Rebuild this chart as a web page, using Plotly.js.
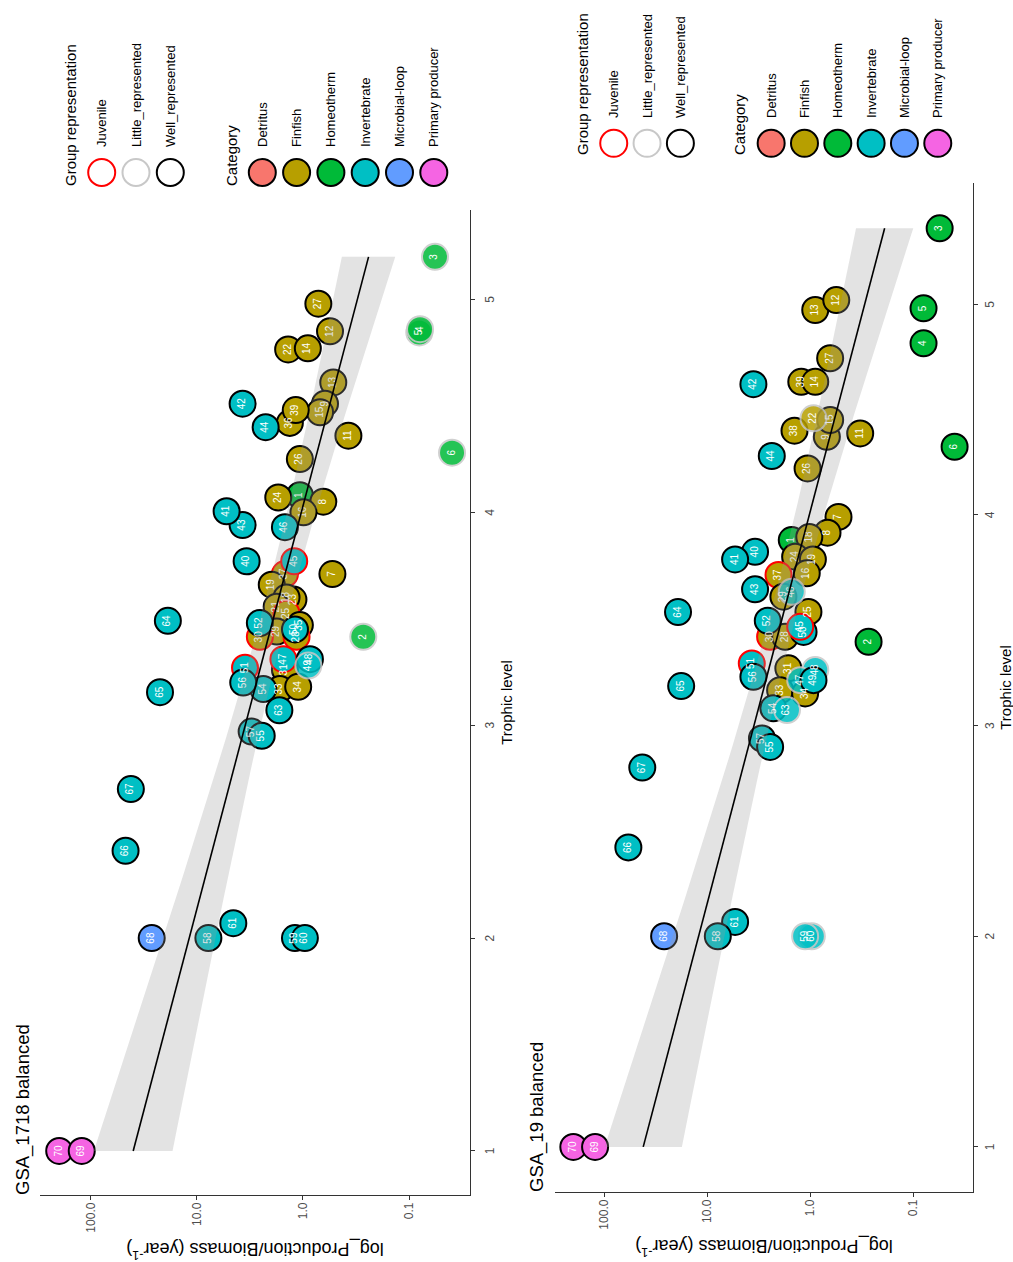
<!DOCTYPE html>
<html>
<head>
<meta charset="utf-8">
<script src="https://cdn.plot.ly/plotly-3.0.1.min.js"></script>
<style>
  html, body { margin:0; padding:0; background:#ffffff; overflow:hidden; }
  #wrap { position:relative; width:1013px; height:1262px; overflow:hidden; background:#fff; }
  .panel { position:absolute; top:0; width:1262px; height:520px; transform-origin:0 0; transform:translate(0px,1262px) rotate(-90deg); }
</style>
</head>
<body>
<div id="wrap">
  <div id="panelA" class="panel" style="left:0px;"></div>
  <div id="panelB" class="panel" style="left:506px;"></div>
</div>
<script>
// ---------------- DATA ----------------
const categories = ['Detritus','Finfish','Homeotherm','Invertebrate','Microbial-loop','Primary producer'];
const categoryCodes = ['D','F','H','I','M','P'];
const categoryColors = ['#F8766D','#B79F00','#00BA38','#00BFC4','#619CFF','#F564E3'];
const representations = ['Juvenile','Little_represented','Well_represented'];
const representationCodes = ['J','L','W'];
const representationColors = ['#FF0000','#C8C8C8','#000000'];

const pbTickVals = [0.1, 1, 10, 100];
const pbTickText = ['0.1', '1.0', '10.0', '100.0'];
const tlTickVals = [1, 2, 3, 4, 5];

// Panel A : GSA_1718 balanced
const titleA = 'GSA_1718 balanced';
const groupsA = ['1','7','8','24','16','26','11','13','9','15','36','39','22','14','12','27','37','19','23','18','21','25','35','29','30','28','31','33','34',
  '70','69','68','58','61','59','60','66','67','65','64','57','55','63','54','51','56','52','50','40','43','41','44','42','46','45','47','48','49',
  '2','3','5','4','6'];
const tlA = [4.08,3.71,4.05,4.07,4.00,4.25,4.36,4.61,4.51,4.47,4.42,4.48,4.765,4.77,4.85,4.98,3.71,3.66,3.59,3.60,3.556,3.525,3.47,3.44,3.415,3.415,3.26,3.17,3.18,
  1.00,1.00,2.00,2.00,2.07,2.00,2.00,2.41,2.70,3.155,3.49,2.97,2.95,3.07,3.17,3.27,3.20,3.48,3.45,3.77,3.94,4.005,4.40,4.51,3.93,3.77,3.31,3.31,3.28,
  3.415,5.20,4.845,4.86,4.28];
const pbA = [1.07,0.528,0.643,1.71,0.99,1.07,0.373,0.518,0.62,0.69,1.33,1.17,1.38,0.90,0.556,0.716,1.48,1.97,1.23,1.43,1.77,1.43,1.07,1.77,2.55,1.15,1.48,1.65,1.11,
  199,122,26.7,7.8,4.54,1.19,0.96,47.1,42.0,22.3,18.8,3.05,2.45,1.67,2.37,3.52,3.66,2.55,1.19,3.40,3.71,5.25,2.25,3.71,1.48,1.21,1.53,0.86,0.89,
  0.27,0.0569,0.080,0.0787,0.0393];
const catA = ['H','F','F','F','F','F','F','F','F','F','F','F','F','F','F','F','F','F','F','F','F','F','F','F','F','F','F','F','F',
  'P','P','M','I','I','I','I','I','I','I','I','I','I','I','I','I','I','I','I','I','I','I','I','I','I','I','I','I','I',
  'H','H','H','H','H'];
const repA = ['W','W','W','W','W','W','W','W','W','W','W','W','W','W','W','W','J','W','W','W','W','J','W','W','J','J','W','W','W',
  'W','W','W','W','W','W','W','W','W','W','W','W','W','W','W','J','W','W','W','W','W','W','W','W','W','J','J','W','L',
  'L','L','L','L','L'];

// Panel B : GSA_19 balanced
const titleB = 'GSA_19 balanced';
const groupsB = ['1','7','8','18','24','19','16','37','29','25','30','28','31','33','34','26','38','11','9','15','22','39','14','27','13','12',
  '42','44','40','41','43','46','52','50','45','51','56','48','47','49','54','63','57','55','64','65','67','66','61','58','60','59','68','70','69',
  '2','3','4','5','6'];
const tlB = [3.881,3.991,3.916,3.896,3.802,3.789,3.723,3.715,3.612,3.54,3.422,3.422,3.272,3.168,3.153,4.221,4.40,4.387,4.371,4.451,4.459,4.632,4.632,4.744,4.973,5.02,
  4.621,4.28,3.825,3.789,3.647,3.635,3.498,3.445,3.469,3.295,3.232,3.264,3.216,3.216,3.082,3.074,2.939,2.899,3.539,3.188,2.801,2.422,2.068,2.0,2.0,2.0,2.0,1.0,1.0,
  3.398,5.361,4.815,4.981,4.324];
const pbB = [1.51,0.531,0.679,1.02,1.40,0.942,1.08,2.03,1.82,1.04,2.45,1.75,1.63,1.96,1.12,1.06,1.42,0.327,0.689,0.64,0.929,1.22,0.893,0.64,0.893,0.558,
  3.56,2.36,3.43,5.36,3.43,1.51,2.58,1.16,1.25,3.69,3.56,0.893,1.25,0.929,2.28,1.68,2.94,2.45,19.2,17.9,42.7,58.3,5.36,7.89,0.964,1.12,26.2,199.5,122.7,
  0.271,0.0553,0.0793,0.0793,0.0396];
const catB = ['H','F','F','F','F','F','F','F','F','F','F','F','F','F','F','F','F','F','F','F','F','F','F','F','F','F',
  'I','I','I','I','I','I','I','I','I','I','I','I','I','I','I','I','I','I','I','I','I','I','I','I','I','I','M','P','P',
  'H','H','H','H','H'];
const repB = ['W','W','W','W','W','W','W','J','W','W','J','W','W','W','W','W','W','W','W','W','L','W','W','W','W','W',
  'W','W','W','W','W','L','W','W','J','J','W','L','L','W','W','L','W','W','W','W','W','W','W','W','L','L','W','W','W',
  'W','W','W','W','W'];

// ---------------- HELPERS ----------------
const FONT = 'Liberation Sans, Arial, Helvetica, sans-serif';
const W = 1262, H = 520;

function lmFit(x, y) {
  const n = x.length;
  const ly = y.map(v => Math.log10(v));
  const mx = x.reduce((a,b)=>a+b,0)/n, my = ly.reduce((a,b)=>a+b,0)/n;
  let sxx = 0, sxy = 0;
  for (let i=0;i<n;i++){ sxx += (x[i]-mx)*(x[i]-mx); sxy += (x[i]-mx)*(ly[i]-my); }
  const b = sxy/sxx, a = my - b*mx;
  let ss = 0;
  for (let i=0;i<n;i++){ const r = ly[i]-(a+b*x[i]); ss += r*r; }
  const df = n-2, s = Math.sqrt(ss/df);
  const z = 1.959964, t = z + (z*z*z + z)/(4*df);
  const xmin = Math.min(...x), xmax = Math.max(...x);
  const xs = [], fit = [], lo = [], hi = [];
  const N = 80;
  for (let k=0;k<=N;k++){
    const xv = xmin + (xmax-xmin)*k/N;
    const yv = a + b*xv;
    const se = s*Math.sqrt(1/n + (xv-mx)*(xv-mx)/sxx);
    xs.push(xv); fit.push(Math.pow(10,yv)); lo.push(Math.pow(10,yv-t*se)); hi.push(Math.pow(10,yv+t*se));
  }
  return {xs, fit, lo, hi};
}

function drawPanel(divId, cfg) {
  const m = cfg.margin;
  const pw = W - m.l - m.r, ph = H - m.t - m.b;
  const px = u => (u - m.l)/pw;
  const py = v => (H - m.b - v)/ph;
  const catColor = c => categoryColors[categoryCodes.indexOf(c)];
  const repColor = r => representationColors[representationCodes.indexOf(r)];

  const fit = lmFit(cfg.tl, cfg.pb);

  const points = {
    type:'scatter', mode:'markers+text', x: cfg.tl, y: cfg.pb, text: cfg.groups,
    textposition:'middle center', textfont:{family:FONT, size:10, color:'#ffffff'},
    marker:{size:26, color: cfg.cat.map(catColor), opacity: cfg.rep.map(r => r==='L' ? 0.85 : 1),
      line:{width:2, color: cfg.rep.map(repColor)}},
    cliponaxis:false, hoverinfo:'skip', showlegend:false
  };
  const band = {
    type:'scatter', mode:'lines', x: fit.xs.concat(fit.xs.slice().reverse()),
    y: fit.hi.concat(fit.lo.slice().reverse()), fill:'toself', fillcolor:'rgba(153,153,153,0.28)',
    line:{width:0, color:'rgba(0,0,0,0)'}, hoverinfo:'skip', showlegend:false
  };
  const line = {
    type:'scatter', mode:'lines', x: fit.xs, y: fit.fit, line:{color:'#000000', width:1.6},
    hoverinfo:'skip', showlegend:false
  };

  const shapes = [], annotations = [];
  const L = cfg.legend;
  annotations.push({xref:'paper', yref:'paper', x:px(L.titleU), y:py(L.groupTitleV), xanchor:'left', yanchor:'middle',
    text:'Group representation', showarrow:false, font:{family:FONT, size:15, color:'#000'}});
  representations.forEach((r,i) => {
    const v = L.groupV0 + i*L.step;
    shapes.push({type:'circle', xref:'paper', yref:'paper', xsizemode:'pixel', ysizemode:'pixel',
      xanchor:px(L.circleU), yanchor:py(v), x0:-13.5, x1:13.5, y0:-13.5, y1:13.5,
      line:{color: representationColors[i], width:2}, fillcolor:'rgba(255,255,255,0)'});
    annotations.push({xref:'paper', yref:'paper', x:px(L.labelU), y:py(v), xanchor:'left', yanchor:'middle',
      text:r, showarrow:false, font:{family:FONT, size:13, color:'#000'}});
  });
  annotations.push({xref:'paper', yref:'paper', x:px(L.titleU), y:py(L.catTitleV), xanchor:'left', yanchor:'middle',
    text:'Category', showarrow:false, font:{family:FONT, size:15, color:'#000'}});
  categories.forEach((c,i) => {
    const v = L.catV0 + i*L.step;
    shapes.push({type:'circle', xref:'paper', yref:'paper', xsizemode:'pixel', ysizemode:'pixel',
      xanchor:px(L.circleU), yanchor:py(v), x0:-13.5, x1:13.5, y0:-13.5, y1:13.5,
      line:{color:'#000000', width:2}, fillcolor: categoryColors[i]});
    annotations.push({xref:'paper', yref:'paper', x:px(L.labelU), y:py(v), xanchor:'left', yanchor:'middle',
      text:c, showarrow:false, font:{family:FONT, size:13, color:'#000'}});
  });

  const layout = {
    width:W, height:H, margin:m, paper_bgcolor:'rgba(0,0,0,0)', plot_bgcolor:'rgba(0,0,0,0)',
    font:{family:FONT},
    title:{text:cfg.title, x:0, xref:'paper', xanchor:'left', y:1 - cfg.titleV/H, yref:'container', yanchor:'middle',
      font:{family:FONT, size:18.5, color:'#000'}},
    xaxis:{range:cfg.xrange, tickvals:tlTickVals, ticks:'outside', ticklen:4, tickwidth:1, tickcolor:'#333',
      showline:true, linecolor:'#333', linewidth:1.2, showgrid:false, zeroline:false,
      tickfont:{family:FONT, size:12, color:'#4D4D4D'}, ticklabelstandoff:cfg.tickStandoff,
      title:{text:'Trophic level', font:{family:FONT, size:15, color:'#000'}, standoff:cfg.titleStandoff}},
    yaxis:{type:'log', range:cfg.yrange, tickvals:pbTickVals, ticktext:pbTickText, ticks:'outside', ticklen:4, tickwidth:1,
      tickcolor:'#333', showline:true, linecolor:'#333', linewidth:1.2, showgrid:false, zeroline:false,
      tickfont:{family:FONT, size:12, color:'#4D4D4D'},
      title:{text:'log_Production/Biomass (year<sup>-1</sup>)', font:{family:FONT, size:18, color:'#000'}, standoff:5}},
    shapes, annotations
  };
  Plotly.newPlot(divId, [points, band, line], layout, {displayModeBar:false, staticPlot:true});
}

drawPanel('panelA', {
  title:titleA, titleV:23, groups:groupsA, tl:tlA, pb:pbA, cat:catA, rep:repA,
  margin:{l:67, r:209.5, t:40, b:50, pad:0},
  xrange:[0.793, 5.42], yrange:[-1.575, 2.48], tickStandoff:4, titleStandoff:6,
  legend:{titleU:1075, circleU:1090, labelU:1114, groupTitleV:70, groupV0:101.7, catTitleV:231.7, catV0:262.3, step:34.3}
});
drawPanel('panelB', {
  title:titleB, titleV:30.7, groups:groupsB, tl:tlB, pb:pbB, cat:catB, rep:repB,
  margin:{l:70.3, r:183, t:49, b:53.3, pad:0},
  xrange:[0.786, 5.576], yrange:[-1.581, 2.478], tickStandoff:1, titleStandoff:1,
  legend:{titleU:1105, circleU:1118.7, labelU:1142, groupTitleV:76.7, groupV0:107.7, catTitleV:233.3, catV0:265, step:33.3}
});
</script>
</body>
</html>
